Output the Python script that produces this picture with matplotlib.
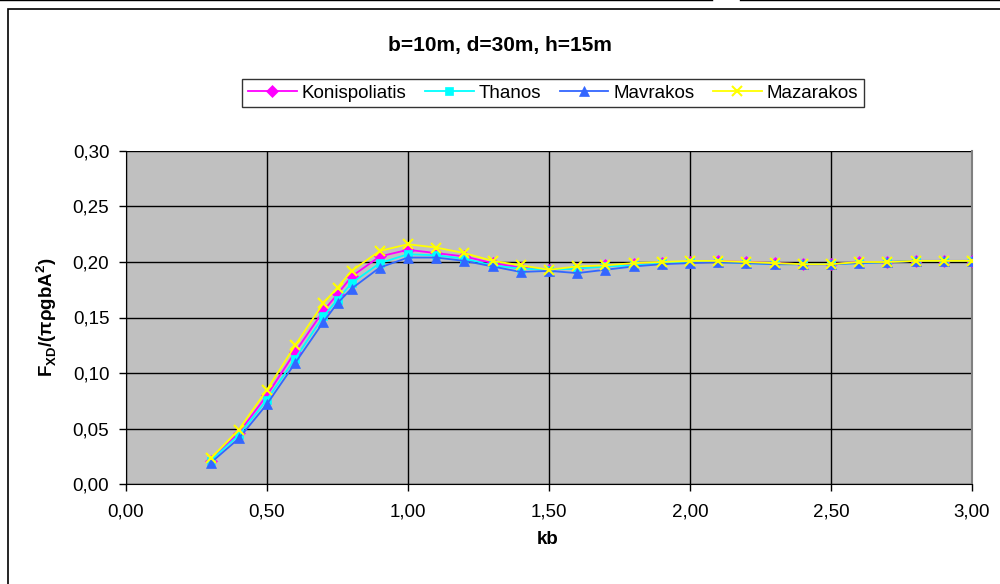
import matplotlib
matplotlib.use('Agg')
import matplotlib.pyplot as plt
from matplotlib.ticker import MultipleLocator, FuncFormatter
from matplotlib.patches import Rectangle
from matplotlib.lines import Line2D

plt.rcParams['font.family'] = ['Liberation Sans', 'DejaVu Sans']
plt.rcParams['mathtext.fontset'] = 'custom'
plt.rcParams['mathtext.rm'] = 'Liberation Sans'
plt.rcParams['mathtext.bf'] = 'Liberation Sans:bold'

kb = [0.3, 0.4, 0.5, 0.6, 0.7, 0.75, 0.8, 0.9, 1.0, 1.1, 1.2, 1.3, 1.4, 1.5, 1.6,
      1.7, 1.8, 1.9, 2.0, 2.1, 2.2, 2.3, 2.4, 2.5, 2.6, 2.7, 2.8, 2.9, 3.0]

konispoliatis = [0.021, 0.046, 0.080, 0.119, 0.156, 0.171, 0.187, 0.205, 0.211, 0.208,
                 0.205, 0.199, 0.195, 0.193, 0.194, 0.197, 0.198, 0.199, 0.200, 0.201,
                 0.200, 0.199, 0.198, 0.198, 0.200, 0.200, 0.201, 0.201, 0.201]
thanos = [0.021, 0.044, 0.076, 0.113, 0.151, 0.166, 0.181, 0.199, 0.207, 0.206,
          0.203, 0.197, 0.194, 0.193, 0.194, 0.196, 0.197, 0.199, 0.200, 0.200,
          0.199, 0.198, 0.198, 0.198, 0.199, 0.200, 0.201, 0.201, 0.201]
mavrakos = [0.019, 0.041, 0.072, 0.109, 0.146, 0.163, 0.176, 0.195, 0.204, 0.204,
            0.201, 0.196, 0.191, 0.192, 0.190, 0.193, 0.196, 0.198, 0.199, 0.200,
            0.199, 0.198, 0.198, 0.198, 0.199, 0.200, 0.201, 0.201, 0.201]
mazarakos = [0.023, 0.049, 0.085, 0.125, 0.163, 0.177, 0.192, 0.210, 0.216, 0.213,
             0.208, 0.201, 0.197, 0.193, 0.196, 0.197, 0.199, 0.200, 0.201, 0.201,
             0.200, 0.199, 0.198, 0.198, 0.200, 0.200, 0.201, 0.201, 0.201]

names = ['Konispoliatis', 'Thanos', 'Mavrakos', 'Mazarakos']
colors = ['#FF00FF', '#00FFFF', '#3366FF', '#FFFF00']
markers = ['D', 's', '^', 'x']
msizes = [6, 6, 7.5, 7.5]

fig = plt.figure(figsize=(10, 5.84), dpi=100)

# outer chart frame and the stray line on top
fig.add_artist(Rectangle((7.5 / 1000, -0.1), 1.2, 1 - 9.5 / 584 + 0.1, transform=fig.transFigure,
                         fill=False, edgecolor='black', linewidth=1.2))
fig.add_artist(Line2D([0, 0.712], [0.9995, 0.9995], transform=fig.transFigure, color='black', lw=1.0))
fig.add_artist(Line2D([0.740, 1.0], [0.9995, 0.9995], transform=fig.transFigure, color='black', lw=1.0))

ax = fig.add_axes([0.126, 1 - 484 / 584, 0.846, 333 / 584])
ax.set_facecolor('#C0C0C0')

series = [konispoliatis, thanos, mavrakos, mazarakos]
for name, vals, c, m, ms in zip(names, series, colors, markers, msizes):
    ax.plot(kb, vals, color=c, marker=m, markersize=ms, linewidth=1.3,
            markeredgewidth=1.5 if m == 'x' else 0.5, label=name, zorder=3)

ax.set_xlim(0, 3)
ax.set_ylim(0, 0.3)
ax.xaxis.set_major_locator(MultipleLocator(0.5))
ax.yaxis.set_major_locator(MultipleLocator(0.05))
fmt = FuncFormatter(lambda v, p: ('%.2f' % v).replace('.', ','))
ax.xaxis.set_major_formatter(fmt)
ax.yaxis.set_major_formatter(fmt)
ax.tick_params(labelsize=13.5, direction='out', length=5, width=1)
ax.tick_params(axis='x', pad=9)
ax.tick_params(axis='y', pad=7)
ax.grid(True, color='black', linewidth=1)
ax.set_axisbelow(True)
ax.spines['top'].set_visible(False)
ax.spines['right'].set_color('#808080')
ax.spines['right'].set_linewidth(1.5)

fig.text(0.548, 1 - 539 / 584, 'kb', ha='center', va='center', fontsize=13.5, fontweight='bold')
fig.text(0.047, 1 - 317 / 584,
         r'$\mathbf{F}_{\mathbf{XD}}\mathbf{/(\pi\rho gbA}^{\mathbf{2}}\mathbf{)}$',
         rotation=90, ha='center', va='center', fontsize=13.5)

fig.text(0.5, 1 - 45 / 584, 'b=10m, d=30m, h=15m', ha='center', va='center',
         fontsize=15, fontweight='bold')

leg = fig.legend(loc='center', bbox_to_anchor=(0.553, 1 - 93 / 584), ncol=4, fontsize=13.5,
                 frameon=True, fancybox=False, edgecolor='black', handlelength=2.6,
                 columnspacing=1.0, handletextpad=0.25, borderpad=0.3)
leg.get_frame().set_linewidth(1)

fig.savefig('out.png', dpi=100)
